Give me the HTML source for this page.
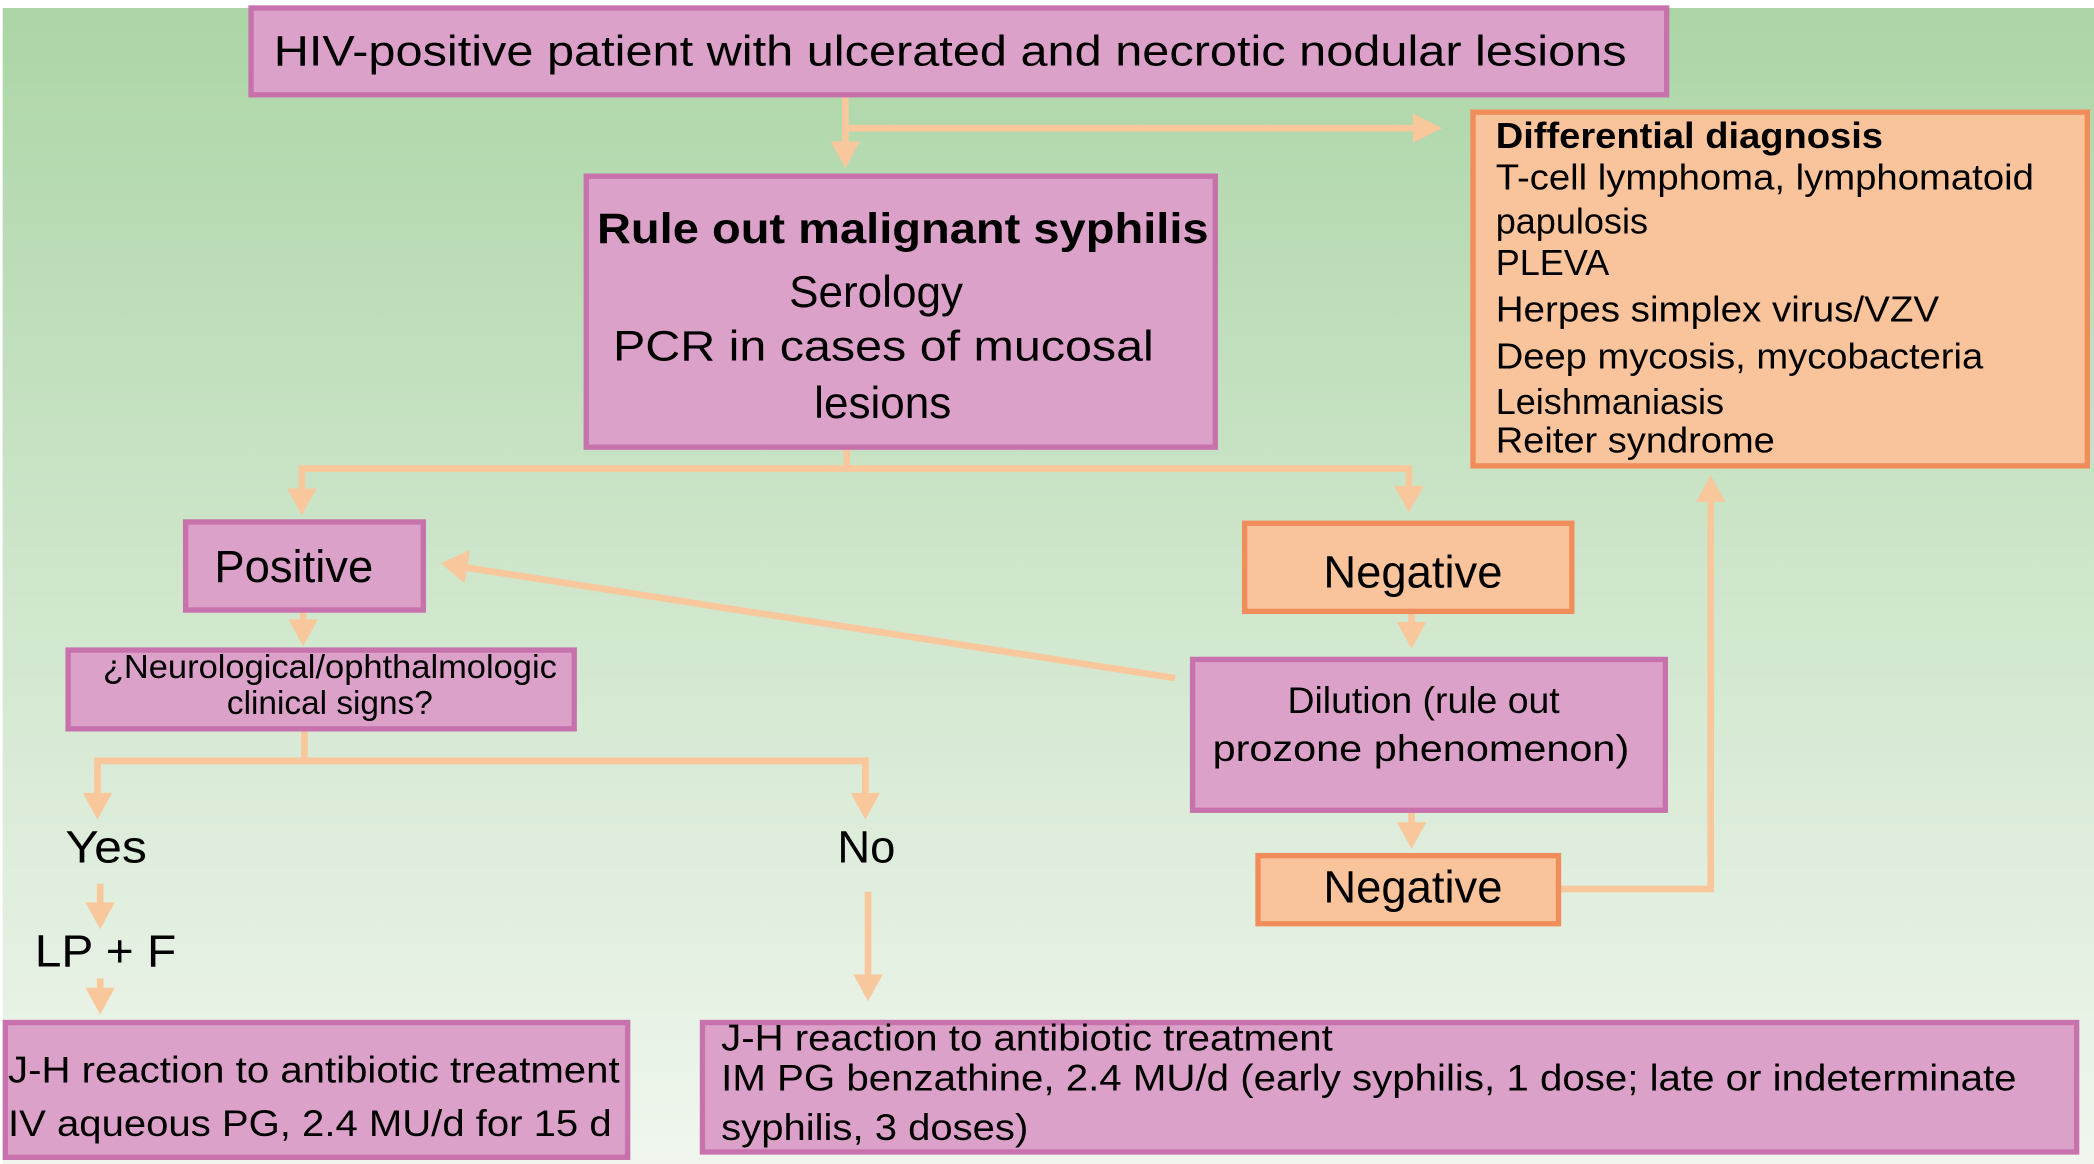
<!DOCTYPE html>
<html><head><meta charset="utf-8"><style>
html,body{margin:0;padding:0;background:#fff;}
svg{display:block;}
text{font-family:"Liberation Sans",sans-serif;fill:#000;}
</style></head><body>
<svg width="2094" height="1164" viewBox="0 0 1568 872" preserveAspectRatio="none" xmlns="http://www.w3.org/2000/svg">
<defs>
<linearGradient id="bg" x1="0" y1="0" x2="0" y2="1">
<stop offset="0" stop-color="#acd5a6"/>
<stop offset="0.5" stop-color="#cfe6cc"/>
<stop offset="1" stop-color="#f0f6ee"/>
</linearGradient>
</defs>
<rect x="0" y="0" width="1568" height="872" fill="#fff"/>
<rect x="2" y="6" width="1566" height="866" fill="url(#bg)"/>

<g stroke="#f9c79c" stroke-width="5" fill="none">
<line x1="633" y1="72" x2="633" y2="108"/>
<line x1="633" y1="96" x2="1062" y2="96"/>
<line x1="634" y1="336" x2="634" y2="351"/>
<polyline points="226,370 226,351 1055,351 1055,368"/>
<line x1="880" y1="508" x2="348" y2="425"/>
<line x1="1057" y1="459" x2="1057" y2="470"/>
<line x1="1057" y1="608" x2="1057" y2="620"/>
<polyline points="1168,666 1281,666 1281,375"/>
<line x1="227" y1="458" x2="227" y2="468"/>
<polyline points="73,598 73,570 648,570 648,598"/>
<line x1="228" y1="547" x2="228" y2="570"/>
<line x1="75" y1="662" x2="75" y2="680"/>
<line x1="75" y1="733" x2="75" y2="744"/>
<line x1="650" y1="668" x2="650" y2="734"/>
</g>
<g fill="#f9c79c">
<polygon points="622,106 644,106 633,126"/>
<polygon points="1058,85 1058,107 1080,96"/>
<polygon points="215,366 237,366 226,386"/>
<polygon points="1044,364 1066,364 1055,384"/>
<polygon points="330,422 352,412 348,437"/>
<polygon points="1046,466 1068,466 1057,486"/>
<polygon points="1046,616 1068,616 1057,636"/>
<polygon points="1270,376 1292,376 1281,356"/>
<polygon points="216,464 238,464 227,484"/>
<polygon points="62,594 84,594 73,614"/>
<polygon points="637,594 659,594 648,614"/>
<polygon points="64,676 86,676 75,696"/>
<polygon points="64,740 86,740 75,760"/>
<polygon points="639,730 661,730 650,750"/>
</g>

<g fill="#dba1c8" stroke="#c772ad" stroke-width="4">
<rect x="188" y="6" width="1060" height="65"/>
<rect x="439" y="132" width="471" height="203"/>
<rect x="139" y="391" width="178" height="66"/>
<rect x="893" y="494" width="354" height="113"/>
<rect x="51" y="487" width="379" height="59"/>
<rect x="4" y="766" width="466" height="101"/>
<rect x="526" y="766" width="1029" height="97"/>
</g>
<g fill="#f9c49b" stroke="#f08d5b" stroke-width="4">
<rect x="1103" y="84" width="460" height="265"/>
<rect x="932" y="392" width="245" height="66"/>
<rect x="942" y="641" width="225" height="51"/>
</g>

<text x="205" y="49" font-size="32" textLength="1013" lengthAdjust="spacingAndGlyphs">HIV-positive patient with ulcerated and necrotic nodular lesions</text>
<text x="447" y="182" font-size="32" font-weight="bold" textLength="458" lengthAdjust="spacingAndGlyphs">Rule out malignant syphilis</text>
<text x="656" y="230" font-size="33" text-anchor="middle">Serology</text>
<text x="459" y="270" font-size="32" textLength="405" lengthAdjust="spacingAndGlyphs">PCR in cases of mucosal</text>
<text x="661" y="313" font-size="33" text-anchor="middle">lesions</text>

<g font-size="27">
<text x="1120" y="111" font-weight="bold" textLength="290" lengthAdjust="spacingAndGlyphs">Differential diagnosis</text>
<text x="1120" y="142" textLength="403" lengthAdjust="spacingAndGlyphs">T-cell lymphoma, lymphomatoid</text>
<text x="1120" y="175">papulosis</text>
<text x="1120" y="206">PLEVA</text>
<text x="1120" y="241" textLength="332" lengthAdjust="spacingAndGlyphs">Herpes simplex virus/VZV</text>
<text x="1120" y="276" textLength="365" lengthAdjust="spacingAndGlyphs">Deep mycosis, mycobacteria</text>
<text x="1120" y="310">Leishmaniasis</text>
<text x="1120" y="339" textLength="209" lengthAdjust="spacingAndGlyphs">Reiter syndrome</text>
</g>

<text x="220" y="436" font-size="34" text-anchor="middle">Positive</text>
<text x="1058" y="440" font-size="34" text-anchor="middle">Negative</text>
<text x="1058" y="676" font-size="34" text-anchor="middle">Negative</text>
<text x="1066" y="534" font-size="28" text-anchor="middle">Dilution (rule out</text>
<text x="1064" y="570" font-size="28" text-anchor="middle" textLength="312" lengthAdjust="spacingAndGlyphs">prozone phenomenon)</text>
<text x="247" y="508" font-size="25" text-anchor="middle" textLength="340" lengthAdjust="spacingAndGlyphs">¿Neurological/ophthalmologic</text>
<text x="247" y="535" font-size="25" text-anchor="middle">clinical signs?</text>
<text x="49" y="646" font-size="34" textLength="61" lengthAdjust="spacingAndGlyphs">Yes</text>
<text x="627" y="646" font-size="34">No</text>
<text x="26" y="724" font-size="34" textLength="106" lengthAdjust="spacingAndGlyphs">LP + F</text>
<text x="6" y="811" font-size="28" textLength="458" lengthAdjust="spacingAndGlyphs">J-H reaction to antibiotic treatment</text>
<text x="6" y="851" font-size="28" textLength="452" lengthAdjust="spacingAndGlyphs">IV aqueous PG, 2.4 MU/d for 15 d</text>
<text x="540" y="787" font-size="28" textLength="458" lengthAdjust="spacingAndGlyphs">J-H reaction to antibiotic treatment</text>
<text x="540" y="817" font-size="28" textLength="970" lengthAdjust="spacingAndGlyphs">IM PG benzathine, 2.4 MU/d (early syphilis, 1 dose; late or indeterminate</text>
<text x="540" y="854" font-size="28" textLength="230" lengthAdjust="spacingAndGlyphs">syphilis, 3 doses)</text>
</svg>
</body></html>
